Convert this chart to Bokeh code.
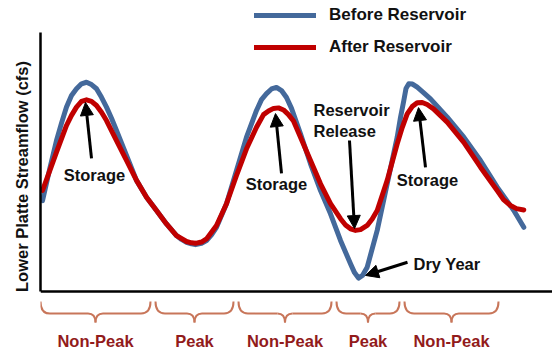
from bokeh.plotting import figure
from bokeh.models import (Range1d, Span, Legend, LegendItem, Arrow, NormalHead,
                          ColumnDataSource, FixedTicker)
from bokeh.core.properties import value
from bokeh.embed import file_html
from bokeh.resources import INLINE

# ---------------- data (time in arbitrary units, flow in relative units) ----------------
time_before = [0.2, 0.93, 1.6, 2.1, 2.6, 3.1, 3.6, 4.1, 4.6, 5.1, 5.6, 6.1, 6.6, 7.1, 7.6,
               8.6, 9.6, 10.6, 11.6, 12.6, 13.6, 14.1, 14.6, 15.1, 15.5, 16.1, 16.6, 17.1,
               17.6, 18.6, 19.6, 20.6, 21.6, 22.1, 22.6, 23.1, 23.6, 24.1, 24.6, 25.1,
               26.0, 27.0, 28.0, 29.0, 30.0, 31.0, 31.4, 31.8, 32.2, 32.67, 33.67, 34.67,
               35.67, 36.0, 36.33, 36.55, 36.83, 37.2, 37.67, 38.3, 39.0, 40.67, 42.33,
               44.0, 45.67, 47.33, 48.33]
flow_before = [35.1, 47.5, 58.3, 65.0, 71.2, 75.7, 78.3, 80.2, 80.8, 79.9, 78.3, 75.0, 71.2,
               66.9, 62.2, 52.5, 42.9, 36.4, 31.3, 26.1, 21.6, 20.1, 19.0, 18.4, 18.1, 18.6,
               19.7, 21.9, 24.8, 33.9, 46.7, 59.6, 69.9, 74.1, 76.4, 78.2, 78.8, 77.6, 74.9,
               70.7, 60.9, 49.3, 39.0, 30.0, 19.7, 10.7, 7.3, 5.2, 6.2, 9.4, 23.6, 41.6,
               59.6, 67.2, 73.7, 78.4, 80.2, 80.1, 78.9, 76.8, 74.4, 67.3, 59.6, 50.6,
               40.3, 31.3, 24.8]

time_after = [0.2, 0.93, 1.6, 2.6, 3.1, 3.6, 4.1, 4.6, 5.1, 5.6, 6.1, 6.6, 7.6, 8.6, 9.6,
              10.6, 11.6, 12.6, 13.6, 14.6, 15.1, 15.5, 16.1, 16.6, 17.6, 18.6, 19.6, 20.6,
              21.6, 22.3, 22.8, 23.3, 23.8, 24.3, 24.8, 25.3, 26.0, 27.0, 28.0, 29.0, 30.0,
              30.5, 31.0, 31.5, 32.0, 32.67, 33.17, 33.67, 34.67, 35.67, 36.17, 36.67,
              37.17, 37.67, 38.17, 38.67, 39.3, 40.67, 42.33, 44.0, 45.67, 46.3, 47.0,
              47.6, 48.33]
flow_after = [39.0, 46.7, 53.8, 64.1, 68.0, 71.2, 73.4, 74.0, 73.4, 71.8, 69.2, 66.0, 58.3,
              50.6, 42.9, 36.4, 31.3, 26.1, 21.6, 19.3, 18.8, 18.6, 19.1, 20.3, 25.5, 33.9,
              44.8, 55.1, 63.4, 68.3, 69.7, 70.7, 70.9, 70.1, 68.3, 65.8, 59.6, 50.6, 41.6,
              33.9, 28.1, 25.7, 24.2, 23.6, 23.9, 25.5, 28.0, 31.3, 42.9, 57.0, 63.3, 68.6,
              71.4, 72.9, 73.0, 72.2, 70.5, 65.4, 57.6, 48.0, 39.0, 35.5, 33.2, 32.0, 31.5]

period_labels = ["Non-Peak", "Peak", "Non-Peak", "Peak", "Non-Peak"]
period_start = [0.0, 11.5, 19.8, 29.6, 36.4]
period_end = [11.0, 19.3, 29.1, 35.9, 45.8]

note_text = ["Storage", "Storage", "Storage", "Reservoir", "Release", "Dry Year"]
note_time = [5.4, 23.6, 38.7, 27.3, 27.3, 37.3]
note_flow = [44.8, 41.7, 43.2, 69.9, 61.8, 10.8]
note_align = ["center", "center", "center", "left", "left", "left"]

arrow_time_from = [5.1, 24.1, 38.5, 30.9, 36.7]
arrow_flow_from = [51.4, 45.6, 47.9, 58.3, 11.3]
arrow_time_to = [4.5, 23.5, 37.8, 31.4, 32.5]
arrow_flow_to = [73.0, 68.7, 71.0, 24.3, 6.2]

# ---------------- styling ----------------
FONT = value("Liberation Sans")
BLUE = "#44699b"
RED = "#c00000"
BRACE = "#c8765a"
LABEL_RED = "#921b1b"

p = figure(width=552, height=352, output_backend="svg", toolbar_location=None,
           x_range=Range1d(0, 51.2), y_range=Range1d(-23.55, 112.36),
           min_border_left=40, min_border_right=0, min_border_top=0, min_border_bottom=0)
p.outline_line_color = None
p.grid.visible = False
p.xaxis.visible = False
p.background_fill_color = "white"

yax = p.yaxis[0]
yax.ticker = FixedTicker(ticks=[])
yax.bounds = (0, 100)
yax.major_tick_out = 0
yax.major_tick_in = 0
yax.minor_tick_out = 0
yax.minor_tick_in = 0
yax.major_label_standoff = 0
yax.axis_line_width = 2.5
yax.axis_line_color = "black"
yax.axis_label = "Lower Platte Streamflow (cfs)"
yax.axis_label_text_font = "Liberation Sans"
yax.axis_label_text_font_style = "bold"
yax.axis_label_text_font_size = "16.5px"
yax.axis_label_text_color = "#111111"
yax.axis_label_standoff = 10

p.add_layout(Span(location=0, dimension="width", line_color="black", line_width=2.5))

r_before = p.line(time_before, flow_before, line_color=BLUE, line_width=5,
                  line_join="round", line_cap="round")
r_after = p.line(time_after, flow_after, line_color=RED, line_width=5,
                 line_join="round", line_cap="round")

legend = Legend(items=[LegendItem(label="Before Reservoir", renderers=[r_before]),
                       LegendItem(label="After Reservoir", renderers=[r_after])],
                location=(214, 295), glyph_width=62, glyph_height=16, label_height=16,
                spacing=12, padding=0, margin=0, label_standoff=13,
                border_line_color=None, background_fill_alpha=0,
                label_text_font="Liberation Sans", label_text_font_style="bold",
                label_text_font_size="17px", label_text_color="#111111")
p.add_layout(legend)

# arrows
arrow_src = ColumnDataSource(dict(x0=arrow_time_from, y0=arrow_flow_from,
                                  x1=arrow_time_to, y1=arrow_flow_to))
p.add_layout(Arrow(source=arrow_src, x_start="x0", y_start="y0", x_end="x1", y_end="y1",
                   line_width=3, line_color="black",
                   end=NormalHead(size=13, fill_color="black", line_color="black", line_width=1)))

# annotation texts
for align in ("center", "left"):
    idx = [i for i, a in enumerate(note_align) if a == align]
    p.text(x=[note_time[i] for i in idx], y=[note_flow[i] for i in idx],
           text=[note_text[i] for i in idx], text_align=align, text_baseline="middle",
           text_font=FONT, text_font_style="bold", text_font_size="16.5px",
           text_color="#111111")

# braces under the axis
top_y, mid_y, tip_y = -3.9, -8.5, -12.0
end_r, tip_r = 0.95, 0.75
q = dict(x0=[], y0=[], x1=[], y1=[], cx=[], cy=[])
s = dict(x0=[], y0=[], x1=[], y1=[])
for a, b in zip(period_start, period_end):
    m = (a + b) / 2
    for (xa, ya, xb, yb, cx, cy) in [(a, top_y, a + end_r, mid_y, a, mid_y),
                                      (m - tip_r, mid_y, m, tip_y, m, mid_y),
                                      (m, tip_y, m + tip_r, mid_y, m, mid_y),
                                      (b - end_r, mid_y, b, top_y, b, mid_y)]:
        q["x0"].append(xa); q["y0"].append(ya); q["x1"].append(xb); q["y1"].append(yb)
        q["cx"].append(cx); q["cy"].append(cy)
    for (xa, xb) in [(a + end_r, m - tip_r), (m + tip_r, b - end_r)]:
        s["x0"].append(xa); s["y0"].append(mid_y); s["x1"].append(xb); s["y1"].append(mid_y)
p.quadratic(x0="x0", y0="y0", x1="x1", y1="y1", cx="cx", cy="cy",
            source=ColumnDataSource(q), line_color=BRACE, line_width=2)
p.segment(x0="x0", y0="y0", x1="x1", y1="y1", source=ColumnDataSource(s),
          line_color=BRACE, line_width=2)

period_mid = [(a + b) / 2 for a, b in zip(period_start, period_end)]
p.text(x=period_mid, y=[-19.3] * len(period_mid), text=period_labels,
       text_align="center", text_baseline="middle", text_font=FONT,
       text_font_style="bold", text_font_size="16.5px", text_color=LABEL_RED)

open("out.html", "w").write(file_html(p, INLINE))
